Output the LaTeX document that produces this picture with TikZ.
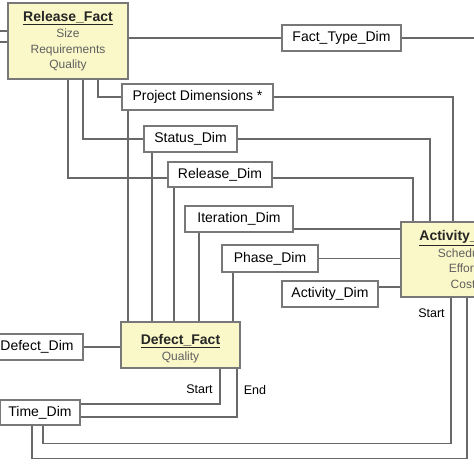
\documentclass[tikz,border=0pt]{standalone}
\usepackage{fontspec}
\setmainfont{Liberation Sans}
\definecolor{factfill}{RGB}{250,248,200}
\definecolor{boxline}{RGB}{120,120,120}
\definecolor{conn}{RGB}{105,105,105}
\definecolor{attr}{RGB}{95,95,95}
\tikzset{
  dimbox/.style={draw=boxline, line width=1.3pt, fill=white, inner sep=0pt,
    font=\fontsize{14}{16}\selectfont, text=black},
  factbox/.style={draw=boxline, line width=1.3pt, fill=factfill, inner sep=0pt,
    align=center, text=attr, font=\fontsize{12}{15.5}\selectfont},
  wire/.style={draw=conn, line width=1.1pt},
  rolelabel/.style={font=\fontsize{12.5}{14}\selectfont, text=black, inner sep=0pt}
}
\newcommand{\facttitle}[1]{{\fontsize{14}{16}\selectfont\bfseries\color{black!85}\underline{#1}}}
\begin{document}
\begin{tikzpicture}[x=1pt,y=-1pt]
\useasboundingbox (0,0) rectangle (474,474);
\clip (0,0) rectangle (474,474);
% nodes
\node[factbox, minimum width=120pt, minimum height=76pt] (RF) at (68,41)
  {\facttitle{Release\_Fact}\\[1pt]Size\\Requirements\\Quality};
\node[dimbox, minimum width=119pt, minimum height=26pt] (FTD) at (341.5,38) {Fact\_Type\_Dim};
\node[dimbox, minimum width=151pt, minimum height=26pt] (PD) at (197.5,97) {Project Dimensions *};
\node[dimbox, minimum width=93pt, minimum height=26pt] (ST) at (190.5,139) {Status\_Dim};
\node[dimbox, minimum width=104pt, minimum height=25pt] (RD) at (220,174.5) {Release\_Dim};
\node[dimbox, minimum width=108pt, minimum height=26pt] (IT) at (239,219) {Iteration\_Dim};
\node[dimbox, minimum width=96pt, minimum height=27pt] (PH) at (270,258.5) {Phase\_Dim};
\node[dimbox, minimum width=96pt, minimum height=26pt] (AD) at (330,294) {Activity\_Dim};
\node[factbox, minimum width=124pt, minimum height=75pt] (AC) at (463,259.5)
  {\facttitle{Activity\_Fact}\\[1pt]Schedule\\Effort\\Cost};
\node[factbox, minimum width=119pt, minimum height=46pt] (DF) at (180.5,345)
  {\mbox{}\\[1.5pt]\facttitle{Defect\_Fact}\\[1pt]Quality};
\node[dimbox, minimum width=92pt, minimum height=26pt] (DD) at (37,347) {Defect\_Dim};
\node[dimbox, minimum width=80pt, minimum height=25pt] (TD) at (40,412.5) {Time\_Dim};
\coordinate (ftdR) at (474,38);
\coordinate (lA) at (0,31);
\coordinate (lB) at (0,42);
% connectors
\draw[wire] (lA) -- (lA -| RF.west);
\draw[wire] (lB) -- (lB -| RF.west);
\draw[wire] (FTD.west -| RF.east) -- (FTD.west);
\draw[wire] (FTD.east) -- (ftdR);
\draw[wire] ([xshift=30pt]RF.south) |- (PD.west);
\draw[wire] ([xshift=15pt]RF.south) |- (ST.west);
\draw[wire] (RF.south) |- ([yshift=-3.5pt]RD.west);
\draw[wire] (PD.east) -| ([xshift=-10pt]AC.north);
\draw[wire] (ST.east) -| ([xshift=-33pt]AC.north);
\draw[wire] ([yshift=-3.5pt]RD.east) -| ([xshift=-50pt]AC.north);
\draw[wire] ([yshift=-10pt]IT.east) coordinate (itR) -- (itR -| AC.west);
\draw[wire] (PH.east) -- (PH.east -| AC.west);
\draw[wire] ([yshift=7pt]AD.east) coordinate (adR) -- (adR -| AC.west);
\draw[wire] ([xshift=-69.5pt]PD.south) coordinate (pdB) -- (pdB |- DF.north);
\draw[wire] ([xshift=-38.5pt]ST.south) coordinate (stB) -- (stB |- DF.north);
\draw[wire] ([xshift=-46pt]RD.south) coordinate (rdB) -- (rdB |- DF.north);
\draw[wire] ([xshift=-40pt]IT.south) coordinate (itB) -- (itB |- DF.north);
\draw[wire] ([xshift=-37pt]PH.south) coordinate (phB) -- (phB |- DF.north);
\draw[wire] (DD.east) -- (DD.east -| DF.west);
\draw[wire] ([xshift=39.5pt]DF.south) |- ([yshift=8.5pt]TD.east);
\draw[wire] ([xshift=56.5pt]DF.south) |- ([yshift=-4.5pt]TD.east);
\draw[wire] ([xshift=-12pt]AC.south) -- ++(0,146) -| ([xshift=3pt]TD.south);
\draw[wire] ([xshift=4pt]AC.south) -- ++(0,161) -| ([xshift=-8pt]TD.south);
% labels
\node[rolelabel] (s1) at (431.5,313) {Start};
\node[rolelabel] (s2) at (199.5,389) {Start};
\node[rolelabel] (e1) at (255,390) {End};
\end{tikzpicture}
\end{document}
